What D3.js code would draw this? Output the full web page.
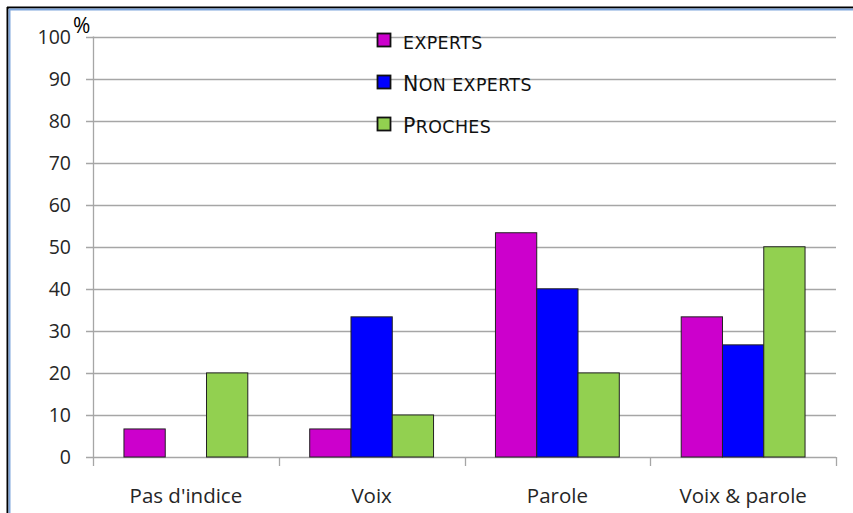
<!DOCTYPE html>
<html><head><meta charset="utf-8">
<script src="https://cdn.jsdelivr.net/npm/d3@7"></script>
<style>
html,body{margin:0;padding:0;background:#fff;}
svg{display:block;}
</style>
</head><body>
<script>
const categories = ["Pas d'indice", "Voix", "Parole", "Voix & parole"];
const seriesNames = ["experts", "Non experts", "Proches"];
const experts = [6.67, 6.67, 53.33, 33.33];
const nonExperts = [0, 33.33, 40, 26.67];
const proches = [20, 10, 20, 50];
const yTicks = [0, 10, 20, 30, 40, 50, 60, 70, 80, 90, 100];
const colors = ["#cc00cc", "#0000ff", "#92d050"];

(function () {
const seriesValues = [experts, nonExperts, proches];
const W = 853, H = 513;
const svg = d3.select("body").append("svg").attr("width", W).attr("height", H);

// frame (top & left)
svg.append("line").attr("x1",7.5).attr("x2",7.5).attr("y1",7).attr("y2",H).attr("stroke","#000").attr("stroke-width",2);
svg.append("line").attr("x1",7).attr("x2",W).attr("y1",7.5).attr("y2",7.5).attr("stroke","#000").attr("stroke-width",2);
svg.append("line").attr("x1",9.5).attr("x2",9.5).attr("y1",9).attr("y2",H).attr("stroke","#7ea6dc").attr("stroke-width",2);
svg.append("line").attr("x1",9).attr("x2",W).attr("y1",9.5).attr("y2",9.5).attr("stroke","#7ea6dc").attr("stroke-width",2);

const pl = 93, pr = 836, pt = 36.5, pb = 457;
const x = d3.scaleBand().domain(categories).range([pl, pr]).paddingInner(1/3).paddingOuter(1/6);
const xs = d3.scaleBand().domain(d3.range(seriesNames.length)).range([0, x.bandwidth()]);
const y = d3.scaleLinear().domain([0, 100]).range([pb, pt]);

const font = "'Open Sans', sans-serif";

// gridlines
svg.append("g").selectAll("line").data(yTicks).join("line")
  .attr("x1", pl - 7).attr("x2", pr)
  .attr("y1", d => Math.round(y(d)) + 0.5).attr("y2", d => Math.round(y(d)) + 0.5)
  .attr("stroke", "#a6a6a6").attr("stroke-width", 1.3);

// y axis labels
svg.append("g").selectAll("text").data(yTicks).join("text")
  .attr("x", 71).attr("y", d => y(d)).attr("dy", "0.36em")
  .attr("text-anchor", "end").attr("font-family", font).attr("font-size", 19.5)
  .attr("fill", "#262626").text(d => d);

svg.append("text").attr("x", 73).attr("y", 33).attr("font-family", font)
  .attr("font-size", 21).attr("fill", "#000").text("%");

// y axis line
svg.append("line").attr("x1", pl + 0.5).attr("x2", pl + 0.5).attr("y1", pt).attr("y2", pb)
  .attr("stroke", "#a6a6a6").attr("stroke-width", 1.3);

// x axis ticks at band boundaries
const step = x.step();
const bounds = d3.range(categories.length + 1).map(i => pl + i * step);
svg.append("g").selectAll("line").data(bounds).join("line")
  .attr("x1", d => Math.round(d) + 0.5).attr("x2", d => Math.round(d) + 0.5)
  .attr("y1", pb).attr("y2", pb + 9)
  .attr("stroke", "#a6a6a6").attr("stroke-width", 1.3);

// bars
const g = svg.append("g");
seriesValues.forEach((vals, si) => {
  g.append("g").selectAll("rect").data(vals.map((v, i) => ({v, c: categories[i]})).filter(d => d.v > 0)).join("rect")
    .attr("x", d => x(d.c) + xs(si))
    .attr("y", d => y(d.v))
    .attr("width", xs.bandwidth())
    .attr("height", d => y(0) - y(d.v))
    .attr("fill", colors[si]).attr("stroke", "#222").attr("stroke-width", 1);
});

// category labels
svg.append("g").selectAll("text").data(categories).join("text")
  .attr("x", d => x(d) + x.bandwidth() / 2).attr("y", 503)
  .attr("text-anchor", "middle").attr("font-family", font).attr("font-size", 20.5)
  .attr("fill", "#262626").text(d => d);

// legend (small caps built from real text)
const legendY = [40, 82, 124];
const lg = svg.append("g");
seriesNames.forEach((name, i) => {
  lg.append("rect").attr("x", 377.5).attr("y", legendY[i] - 6.5).attr("width", 13).attr("height", 13)
    .attr("fill", colors[i]).attr("stroke", "#111").attr("stroke-width", 1.8);
  const t = lg.append("text").attr("x", 403).attr("y", legendY[i] + 8.5)
    .attr("font-family", "'DejaVu Sans', Verdana, sans-serif").attr("fill", "#111")
    .attr("letter-spacing", 0.4);
  const first = name[0];
  const isCap = first === first.toUpperCase();
  if (isCap) {
    t.append("tspan").attr("font-size", 20.5).text(first);
    t.append("tspan").attr("font-size", 17.4).text(name.slice(1).toUpperCase());
  } else {
    t.append("tspan").attr("font-size", 17.4).text(name.toUpperCase());
  }
});
})();
</script>
</body></html>
